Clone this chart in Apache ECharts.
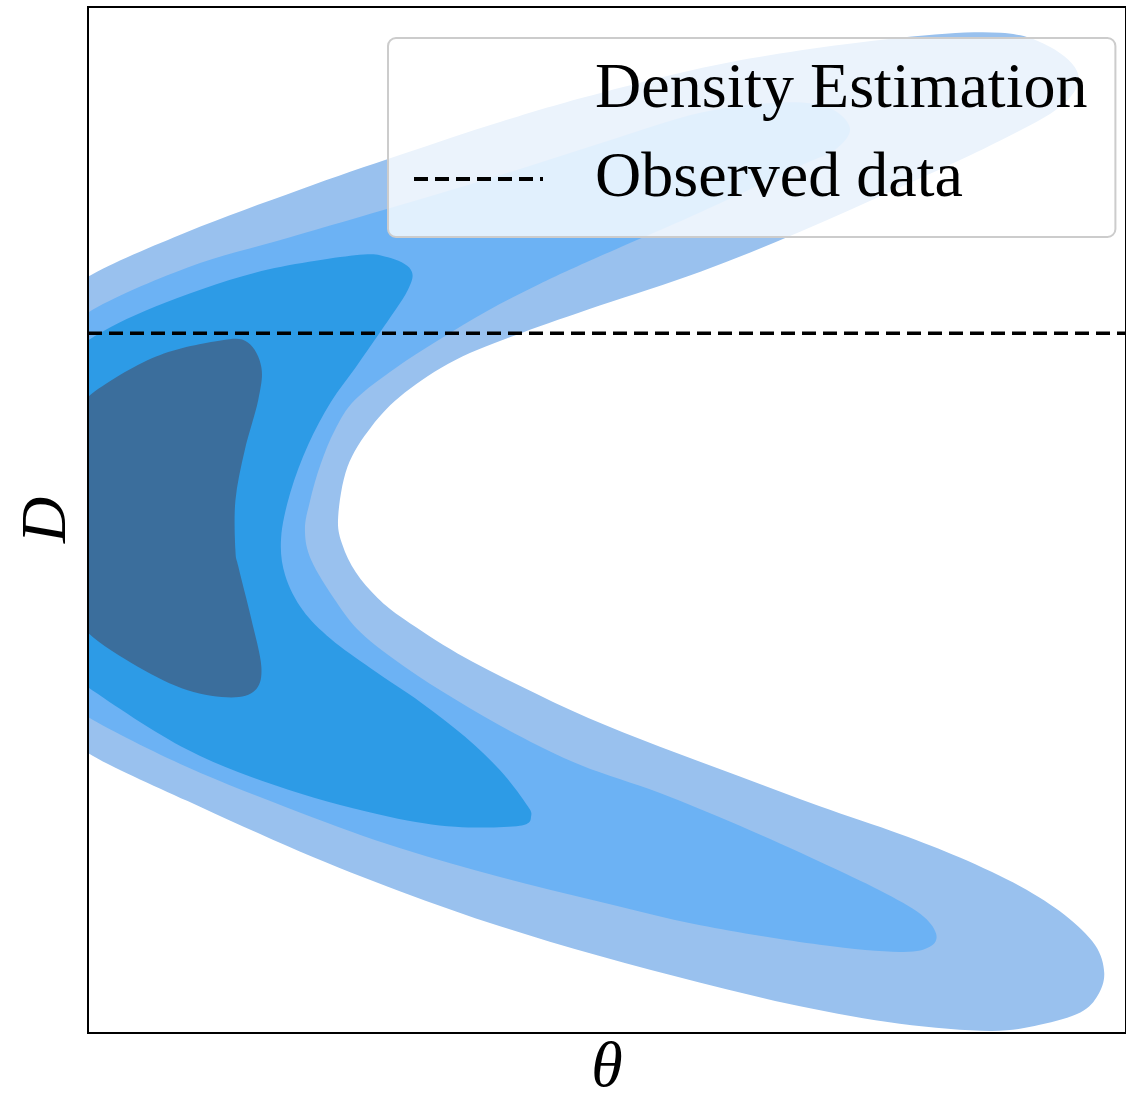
<!DOCTYPE html>
<html>
<head>
<meta charset="utf-8">
<script src="https://cdn.jsdelivr.net/npm/echarts@6/dist/echarts.min.js"></script>
<style>
  html, body { margin: 0; padding: 0; background: #fff; }
  #chart { width: 1126px; height: 1097px; }
</style>
</head>
<body>
<div id="chart"></div>
<script>
// Filled density contours (outermost level first), [theta, D] in axis units 0..10.
// Points left of theta = 0 only close the shapes; the grid clips them.
const level1 = [
  [-0.4, 7.0], [0, 7.37], [0.96, 7.81], [2.04, 8.22], [3.01, 8.56], [3.97, 8.88],
  [4.93, 9.16], [6.28, 9.48], [7.82, 9.70], [8.79, 9.75], [9.27, 9.61], [9.54, 9.34],
  [9.38, 9.04], [8.79, 8.70], [7.82, 8.24], [6.86, 7.81], [5.90, 7.42], [4.93, 7.09],
  [4.17, 6.82], [3.54, 6.56], [3.05, 6.24], [2.73, 5.91], [2.50, 5.52], [2.41, 5.03],
  [2.45, 4.76], [2.58, 4.49], [2.79, 4.24], [3.05, 4.03], [3.56, 3.70], [4.17, 3.38],
  [4.82, 3.07], [5.51, 2.79], [6.28, 2.50], [7.05, 2.21], [7.82, 1.94], [8.40, 1.71],
  [8.98, 1.43], [9.41, 1.15], [9.70, 0.86], [9.79, 0.59], [9.73, 0.37], [9.56, 0.20],
  [9.17, 0.08], [8.69, 0.02], [7.82, 0.09], [6.86, 0.26], [5.90, 0.49], [4.93, 0.75],
  [3.97, 1.04], [3.01, 1.38], [2.04, 1.77], [0.96, 2.26], [0, 2.73], [-0.4, 3.1], [-0.7, 5.0]
];
const level2 = [
  [-0.4, 6.6], [0, 7.02], [0.96, 7.46], [1.93, 7.75], [3.01, 8.07], [3.97, 8.36],
  [4.93, 8.67], [5.90, 8.97], [6.67, 9.07], [7.13, 9.02], [7.34, 8.82], [7.20, 8.61],
  [6.86, 8.45], [5.90, 8.00], [4.93, 7.57], [4.35, 7.30], [3.85, 7.04], [3.37, 6.75],
  [2.96, 6.48], [2.57, 6.17], [2.38, 5.88], [2.24, 5.54], [2.14, 5.19], [2.09, 4.90],
  [2.15, 4.61], [2.38, 4.22], [2.63, 3.90], [3.05, 3.57], [3.54, 3.25], [4.11, 2.92],
  [4.75, 2.61], [5.51, 2.34], [6.28, 2.02], [7.05, 1.67], [7.63, 1.39], [8.02, 1.16],
  [8.17, 0.97], [8.11, 0.84], [7.82, 0.79], [7.05, 0.86], [5.90, 1.05], [4.93, 1.28],
  [3.97, 1.52], [3.01, 1.80], [2.04, 2.15], [0.96, 2.59], [0, 3.08], [-0.4, 3.4], [-0.6, 5.0]
];
const level3 = [
  [-0.4, 6.4], [0, 6.75], [0.65, 7.08], [1.61, 7.41], [2.57, 7.58], [2.89, 7.56],
  [3.11, 7.44], [3.08, 7.24], [2.82, 6.84], [2.58, 6.49], [2.34, 6.15], [2.12, 5.73],
  [1.95, 5.27], [1.86, 4.82], [1.90, 4.46], [2.07, 4.12], [2.34, 3.84], [2.73, 3.55],
  [3.21, 3.22], [3.63, 2.89], [3.97, 2.56], [4.21, 2.25], [4.27, 2.12], [4.16, 2.02],
  [3.54, 2.01], [2.89, 2.11], [1.93, 2.37], [0.96, 2.76], [0, 3.37], [-0.4, 3.7], [-0.6, 5.0]
];
const level4 = [
  [-0.3, 5.8], [0, 6.20], [0.65, 6.59], [1.28, 6.75], [1.54, 6.73], [1.67, 6.49],
  [1.64, 6.17], [1.51, 5.68], [1.42, 5.19], [1.42, 4.71], [1.45, 4.54], [1.57, 4.05],
  [1.67, 3.57], [1.61, 3.34], [1.38, 3.27], [0.96, 3.34], [0.48, 3.57], [0, 3.90],
  [-0.3, 4.3], [-0.4, 5.2]
];
const observedD = 6.82;
const thetaRange = [0, 10];
const dRange = [0, 10];

const serif = '"Liberation Serif", "DejaVu Serif", serif';
const dash = [14, 7];

// closed Catmull-Rom curve through the projected contour points
function closedCurve(pts) {
  const n = pts.length;
  const f = (v) => v.toFixed(2);
  let d = 'M' + f(pts[0][0]) + ',' + f(pts[0][1]);
  for (let i = 0; i < n; i++) {
    const p0 = pts[(i - 1 + n) % n], p1 = pts[i], p2 = pts[(i + 1) % n], p3 = pts[(i + 2) % n];
    const c1x = p1[0] + (p2[0] - p0[0]) / 6, c1y = p1[1] + (p2[1] - p0[1]) / 6;
    const c2x = p2[0] - (p3[0] - p1[0]) / 6, c2y = p2[1] - (p3[1] - p1[1]) / 6;
    d += 'C' + f(c1x) + ',' + f(c1y) + ' ' + f(c2x) + ',' + f(c2y) + ' ' + f(p2[0]) + ',' + f(p2[1]);
  }
  return d + 'Z';
}

function contour(points, color) {
  return {
    type: 'custom',
    name: 'Density Estimation',
    coordinateSystem: 'cartesian2d',
    clip: true,
    silent: true,
    z: 2,
    data: points,
    renderItem(params, api) {
      if (params.dataIndex !== 0) return null;
      return {
        type: 'path',
        shape: { pathData: closedCurve(points.map((p) => api.coord(p))) },
        style: { fill: color }
      };
    }
  };
}

const chart = echarts.init(document.getElementById('chart'), null, { renderer: 'canvas' });
chart.setOption({
  animation: false,
  backgroundColor: '#ffffff',
  grid: {
    left: 88, top: 7, right: 0, bottom: 64,
    outerBoundsMode: 'none', containLabel: false,
    show: true, borderColor: '#000', borderWidth: 2, backgroundColor: 'transparent'
  },
  xAxis: {
    type: 'value', min: thetaRange[0], max: thetaRange[1], z: 10,
    name: 'θ', nameLocation: 'middle', nameGap: 4,
    nameTextStyle: { fontFamily: serif, fontStyle: 'italic', fontSize: 64, color: '#000' },
    axisLine: { lineStyle: { color: '#000', width: 2 } },
    axisTick: { show: false }, axisLabel: { show: false }, splitLine: { show: false }
  },
  yAxis: {
    type: 'value', min: dRange[0], max: dRange[1], z: 10,
    name: 'D', nameLocation: 'middle', nameGap: 8, nameRotate: 90,
    nameTextStyle: { fontFamily: serif, fontStyle: 'italic', fontSize: 64, color: '#000' },
    axisLine: { lineStyle: { color: '#000', width: 2 } },
    axisTick: { show: false }, axisLabel: { show: false }, splitLine: { show: false }
  },
  legend: {
    orient: 'vertical', left: 388, top: 38,
    padding: [17, 28, 23, 24], itemGap: 19,
    itemWidth: 129, itemHeight: 14,
    backgroundColor: 'rgba(255,255,255,0.8)',
    borderColor: '#cccccc', borderWidth: 2, borderRadius: 8,
    selectedMode: false,
    textStyle: { fontFamily: serif, fontSize: 64, color: '#000', lineHeight: 70, padding: [0, 0, 0, 47] },
    data: [
      { name: 'Density Estimation', icon: 'none' },
      {
        name: 'Observed data',
        itemStyle: { opacity: 0 },
        lineStyle: { color: '#000', width: 4, type: dash }
      }
    ]
  },
  series: [
    contour(level1, '#99c1ee'),
    contour(level2, '#6cb2f4'),
    contour(level3, '#2d9be6'),
    contour(level4, '#3b6e9c'),
    {
      type: 'line', name: 'Observed data', silent: true, z: 3,
      symbol: 'none', clip: true,
      data: [[thetaRange[0], observedD], [thetaRange[1], observedD]],
      lineStyle: { color: '#000', width: 3.5, type: dash }
    }
  ]
});
</script>
</body>
</html>
